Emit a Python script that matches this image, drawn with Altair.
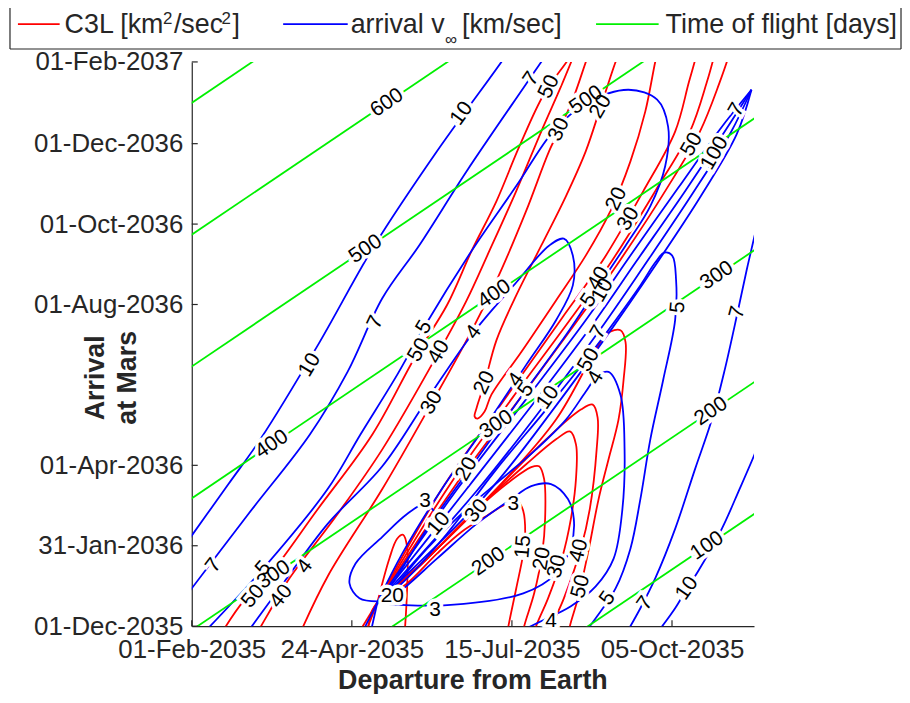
import altair as alt
import pandas as pd

# ---------------- data ----------------
# departure: days after 01-Feb-2035, arrival: days after 01-Dec-2035
x_tick_dates = ["2035-02-01", "2035-04-24", "2035-07-15", "2035-10-05"]
y_tick_dates = ["2035-12-01", "2036-01-31", "2036-04-01", "2036-08-01",
                "2036-10-01", "2036-12-01", "2037-02-01"]

tof_levels = [100, 200, 300, 400, 500, 600, 700]
tof_label_dep = [100, 89, 202, 41, 155, 269, 156, 42, 266, 152, 264]
tof_label_val = [600, 500, 500, 400, 400, 300, 300, 300, 200, 200, 100]

# arrival v-infinity contours (blue)
vinf_10_a = [(-6.6, 55.0), (18.8, 107.8), (35.1, 141.7), (64.6, 213.2), (93.5, 288.6),
             (125.6, 360.2), (158.6, 428.0), (163.7, 439.3)]
vinf_7_a = [(-6.6, 15.8), (29.0, 85.1), (60.5, 145.4), (79.8, 192.9), (97.6, 248.7),
            (116.4, 288.6), (140.8, 345.1), (170.3, 409.2), (182.5, 435.5)]
vinf_5_a = [(3.6, -9.0), (36.6, 43.7), (69.6, 104.0), (86.4, 145.4), (105.2, 190.6),
            (119.0, 226.8), (143.4, 284.8), (166.2, 333.8), (185.1, 375.2), (201.8, 396.3),
            (223.7, 406.9), (238.4, 399.4), (244.0, 379.0), (242.5, 348.9), (234.9, 318.7),
            (222.2, 288.6), (206.9, 254.7), (191.7, 220.8), (171.3, 179.3), (145.9, 126.6),
            (120.5, 73.8), (102.7, 32.4), (95.1, 18.8)]
vinf_4_a = [(26.4, -9.0), (46.8, 32.4), (69.6, 77.6), (97.6, 121.3), (120.5, 171.8),
            (144.4, 223.0), (166.2, 260.7), (183.0, 288.6), (190.6, 293.9), (195.2, 281.1),
            (195.2, 258.5), (186.6, 232.1), (171.3, 198.2), (151.0, 153.0), (128.1, 104.0),
            (107.8, 55.0), (96.1, 21.1)]
vinf_3_a = [(95.1, 18.8), (85.9, 21.1), (80.8, 32.4), (83.9, 47.5), (97.6, 67.8),
            (110.3, 85.1), (119.5, 92.7), (124.0, 87.4)]
vinf_3_b = [(95.1, 17.3), (129.1, 15.8), (169.8, 24.9), (186.6, 39.9), (194.2, 60.3),
            (195.7, 81.4), (192.7, 96.4), (184.0, 107.8), (173.9, 106.2), (163.7, 96.4),
            (145.9, 77.6), (125.6, 51.2), (105.2, 24.9), (95.1, 17.3)]
vinf_4_b = [(166.2, -5.3), (180.0, 4.5), (194.2, 15.1), (206.9, 30.1), (216.1, 51.2),
            (220.6, 88.9), (221.7, 134.1), (219.6, 175.6), (213.5, 192.9), (207.9, 189.9),
            (201.8, 177.8), (191.7, 156.7), (176.4, 134.1), (158.6, 111.5), (140.8, 88.9),
            (120.5, 58.8), (105.2, 32.4), (96.6, 18.8)]
vinf_5_b = [(199.3, -9.0), (206.9, 6.0), (217.1, 28.6), (224.7, 58.8), (229.8, 96.4),
            (234.9, 141.7), (241.5, 186.9), (247.6, 232.1), (248.1, 262.2), (246.1, 281.1),
            (242.0, 283.3), (237.4, 275.8), (229.8, 258.5), (217.1, 232.1), (201.8, 201.9),
            (181.5, 164.3), (156.1, 119.1), (130.7, 70.1), (110.3, 36.2), (97.6, 19.6)]
vinf_7_b = [(221.2, -9.0), (229.8, 13.6), (237.4, 36.2), (247.6, 73.8), (257.8, 119.1),
            (266.4, 156.7), (273.0, 194.4), (279.6, 238.1), (284.2, 269.8), (288.3, 296.1),
            (290.8, 311.2)]
vinf_10_b = [(236.4, -9.0), (247.6, 13.6), (253.7, 28.6), (259.3, 41.4), (271.5, 73.8),
             (280.6, 104.0), (288.3, 130.4), (290.8, 140.2)]
vinf_ridge_1 = [(95.1, 18.1), (140.8, 104.0), (176.4, 171.8), (206.9, 232.1), (227.3, 275.8),
                (252.7, 330.0), (273.0, 375.2), (286.7, 406.9)]
vinf_ridge_2 = [(95.1, 18.1), (145.9, 102.5), (181.5, 169.5), (211.5, 229.8), (231.8, 273.5),
                (256.7, 328.5), (276.1, 374.5), (286.7, 406.9)]
vinf_ridge_3 = [(95.1, 18.1), (151.0, 100.2), (186.6, 167.3), (216.1, 227.6), (236.4, 271.3),
                (260.8, 326.3), (279.1, 373.0), (286.7, 406.9)]
vinf_ridge_4 = [(95.1, 18.1), (136.8, 105.5), (172.3, 174.1), (202.9, 234.3), (223.2, 278.0),
                (249.1, 332.3), (270.5, 376.8), (286.7, 406.9)]
vinf_fan_1 = [(95.1, 18.1), (85.9, -9.0)]
vinf_fan_2 = [(95.1, 18.1), (91.0, -9.0)]

# launch C3 contours (red)
c3_50_a = [(13.7, -9.0), (26.4, 18.8), (37.6, 34.7), (64.6, 88.9), (92.5, 145.4),
           (114.4, 204.2), (130.7, 243.4), (143.4, 284.8), (156.1, 322.5), (167.8, 363.9),
           (180.5, 403.9), (192.7, 429.5), (195.7, 437.0)]
c3_40_a = [(32.0, -9.0), (40.2, 12.1), (49.3, 34.7), (74.7, 85.1), (97.6, 134.1),
           (126.6, 208.0), (140.8, 247.1), (152.5, 284.8), (166.2, 330.0), (179.0, 375.2),
           (189.1, 409.2), (196.8, 437.0)]
c3_30_a = [(54.4, -9.0), (69.6, 37.7), (97.6, 104.0), (123.0, 169.5), (140.8, 217.0),
           (156.1, 262.2), (171.3, 315.0), (183.0, 360.2), (189.1, 379.0), (195.7, 401.6),
           (202.8, 431.8), (204.4, 437.0)]
c3_20_a = [(219.6, 437.0), (217.1, 428.0), (209.5, 394.1), (201.8, 360.2), (191.7, 326.3),
           (179.0, 288.6), (166.2, 250.9), (156.1, 217.0), (150.0, 184.6), (146.0, 166.0),
           (144.9, 159.0), (146.4, 157.5), (150.0, 162.8), (153.5, 175.6), (168.8, 208.0),
           (186.6, 247.1), (201.8, 281.1), (214.5, 315.0), (224.7, 352.6), (232.3, 390.3),
           (237.4, 428.0), (238.9, 437.0)]
c3_30_b = [(95.1, 18.1), (128.1, 104.0), (160.1, 171.8), (189.6, 233.6), (210.5, 277.3),
           (231.3, 330.0), (247.6, 375.2), (254.7, 412.9), (259.3, 437.0)]
c3_40_b = [(95.1, 18.1), (131.7, 106.2), (164.7, 174.1), (194.7, 234.3), (215.6, 278.0),
           (237.4, 330.0), (255.2, 375.2), (263.9, 412.9), (268.4, 437.0)]
c3_50_b = [(95.1, 18.1), (134.7, 106.2), (168.8, 174.1), (198.8, 234.3), (219.6, 278.0),
           (242.5, 330.0), (260.3, 375.2), (270.5, 412.9), (276.1, 437.0)]
c3_15_c = [(95.1, 18.1), (110.3, 32.4), (125.6, 55.0), (138.3, 71.6), (151.0, 83.6),
           (161.2, 92.7), (167.3, 94.2), (169.8, 87.4), (170.8, 70.1), (169.8, 55.0),
           (166.2, 28.6), (162.2, 0.0), (161.2, -9.0)]
c3_20_c = [(95.1, 18.1), (115.4, 43.7), (140.8, 81.4), (161.2, 107.8), (173.9, 120.6),
           (177.9, 121.3), (180.5, 111.5), (181.0, 81.4), (179.5, 55.0), (175.4, 24.9),
           (170.3, 0.0), (169.3, -9.0)]
c3_30_c = [(95.1, 18.1), (117.9, 47.5), (145.9, 88.9), (171.3, 122.8), (186.6, 141.7),
           (193.7, 147.7), (196.8, 137.9), (196.8, 111.5), (194.2, 81.4), (189.6, 51.2),
           (182.5, 21.1), (176.4, 0.0), (174.9, -9.0)]
c3_40_c = [(95.1, 18.1), (120.5, 51.2), (151.0, 96.4), (181.5, 141.7), (199.3, 164.3),
           (205.4, 168.0), (207.9, 158.2), (207.4, 134.1), (203.9, 88.9), (199.3, 58.8),
           (190.6, 21.1), (184.5, 0.0), (183.0, -9.0)]
c3_50_c = [(95.1, 18.1), (123.0, 55.0), (156.1, 104.0), (186.6, 156.7), (206.9, 209.5),
           (213.0, 222.3), (219.6, 224.5), (222.2, 215.5), (221.2, 186.9), (218.6, 156.7),
           (213.5, 126.6), (208.4, 96.4), (202.9, 55.0), (197.8, 21.1), (193.7, 0.0),
           (192.7, -9.0)]
c3_hi_a = [(95.1, 18.1), (101.2, 51.2), (105.2, 66.3), (108.3, 69.3), (110.3, 60.3),
           (110.3, 28.6), (109.3, 0.0), (108.8, -9.0)]
c3_hi_b = [(95.1, 18.1), (92.5, 12.1), (90.5, 0.0), (90.0, -9.0)]
c3_fan_1 = [(95.1, 18.1), (83.9, -9.0)]
c3_fan_2 = [(95.1, 18.1), (88.0, -9.0)]

# contour labels: (text, departure, arrival, rotation)
vinf_labels = [("10", 60.5, 198.2, 301), ("10", 138.3, 388.8, 306),
               ("7", 11.2, 46.0, 307), ("7", 94.1, 230.6, 295), ("7", 173.9, 415.2, 304),
               ("5", 36.6, 43.7, 311), ("5", 119.0, 226.8, 301), ("5", 203.4, 247.1, 304),
               ("5", 171.3, 179.3, 305), ("4", 58.0, 45.2, 307), ("4", 144.4, 223.0, 307),
               ("4", 166.2, 186.9, 305), ("3", 119.5, 94.9, 0), ("3", 124.6, 12.1, 0),
               ("3", 164.7, 92.7, 0), ("4", 184.0, 3.8, 0), ("4", 206.9, 188.4, 300),
               ("5", 213.0, 21.1, 305), ("5", 249.1, 241.9, 275), ("7", 232.3, 17.3, 305),
               ("7", 279.6, 238.1, 285), ("10", 253.7, 28.6, 305), ("7", 279.1, 391.7, 300),
               ("10", 210.5, 254.7, 300), ("7", 208.4, 223.0, 300), ("10", 182.5, 173.3, 305),
               ("10", 126.6, 77.6, 310)]
c3_labels = [("50", 31.5, 22.6, 310), ("50", 116.4, 209.5, 300), ("50", 183.0, 409.2, 295),
             ("40", 45.8, 22.6, 308), ("40", 126.6, 208.0, 300), ("30", 123.0, 169.5, 300),
             ("30", 188.1, 376.8, 295), ("20", 150.0, 184.6, 295), ("20", 209.5, 394.1, 300),
             ("20", 217.6, 324.0, 295), ("30", 223.7, 308.9, 300), ("50", 256.2, 365.4, 300),
             ("40", 208.4, 263.7, 300), ("100", 267.9, 358.7, 300), ("50", 203.4, 201.9, 300),
             ("15", 169.8, 60.3, 275), ("20", 179.5, 51.2, 280), ("30", 187.1, 45.2, 285),
             ("40", 198.3, 57.3, 285), ("50", 199.3, 30.1, 285), ("30", 145.9, 87.4, 310),
             ("20", 102.7, 22.6, 0), ("20", 140.8, 119.1, 300)]

# ---------------- tables ----------------
DEP0 = pd.Timestamp("2035-02-01")
ARR0 = pd.Timestamp("2035-12-01")
ARR_OFFSET = (ARR0 - DEP0).days  # 303

curves = {
    "C3L": [c3_50_a, c3_40_a, c3_30_a, c3_20_a, c3_30_b, c3_40_b, c3_50_b,
            c3_15_c, c3_20_c, c3_30_c, c3_40_c, c3_50_c, c3_hi_a, c3_hi_b,
            c3_fan_1, c3_fan_2],
    "vinf": [vinf_10_a, vinf_7_a, vinf_5_a, vinf_4_a, vinf_3_a, vinf_3_b, vinf_4_b,
             vinf_5_b, vinf_7_b, vinf_10_b, vinf_ridge_1, vinf_ridge_2, vinf_ridge_3,
             vinf_ridge_4, vinf_fan_1, vinf_fan_2],
}
rows = []
cid = 0
for kind, lst in curves.items():
    for pts in lst:
        for i, (d, a) in enumerate(pts):
            rows.append({"kind": kind, "curve": cid, "seq": i, "d": d, "a": a})
        cid += 1
for t in tof_levels:
    for i, d in enumerate([-10, 300]):
        rows.append({"kind": "tof", "curve": cid, "seq": i, "d": d, "a": d + t - ARR_OFFSET})
    cid += 1
lines = pd.DataFrame(rows)
lines["dep"] = DEP0 + pd.to_timedelta(lines["d"], unit="D")
lines["arr"] = ARR0 + pd.to_timedelta(lines["a"], unit="D")

lab_rows = [{"text": t, "d": d, "a": a, "ang": g} for (t, d, a, g) in vinf_labels + c3_labels]
for d, v in zip(tof_label_dep, tof_label_val):
    lab_rows.append({"text": str(v), "d": d, "a": d + v - ARR_OFFSET, "ang": 326})
labels = pd.DataFrame(lab_rows)
labels["dep"] = DEP0 + pd.to_timedelta(labels["d"], unit="D")
labels["arr"] = ARR0 + pd.to_timedelta(labels["a"], unit="D")


def dt(s):
    y, m, d = (int(v) for v in s.split("-"))
    return alt.DateTime(year=y, month=m, date=d)


FONT = "Liberation Sans, Arial, Helvetica"
TXT = "#262626"
x_scale = alt.Scale(domain=[dt("2035-02-01"), dt("2035-11-16")])
y_scale = alt.Scale(domain=[dt("2035-12-01"), dt("2037-02-01")])
W, H = 566, 568

x_axis = alt.Axis(values=[dt(s) for s in x_tick_dates], format="%d-%b-%Y", title=None,
                  grid=False, ticks=False, labelFont=FONT, labelFontSize=26,
                  labelColor=TXT, labelPadding=11, labelOverlap=False, labelFlush=False,
                  domainColor=TXT, domainWidth=1.2)
y_axis = alt.Axis(values=[dt(s) for s in y_tick_dates], format="%d-%b-%Y", title=None,
                  grid=False, ticks=False, labelFont=FONT, labelFontSize=26,
                  labelColor=TXT, labelPadding=9, labelOverlap=False, labelFlush=False,
                  domainColor=TXT, domainWidth=1.2)

X = alt.X("dep:T", scale=x_scale, axis=x_axis)
Y = alt.Y("arr:T", scale=y_scale, axis=y_axis)

color_scale = alt.Scale(domain=["C3L", "vinf", "tof"], range=["#ff0000", "#0000ff", "#00f000"])

contours = alt.Chart(lines).mark_line(clip=True, strokeWidth=1.8,
                                      interpolate="catmull-rom").encode(
    x=X, y=Y,
    color=alt.Color("kind:N", scale=color_scale, legend=None),
    detail="curve:N",
    order="seq:Q",
)

halo = alt.Chart(labels).mark_text(font=FONT, fontSize=21, stroke="white",
                                   strokeWidth=7, fill="white").encode(
    x=X, y=Y, text="text:N", angle=alt.Angle("ang:Q", scale=None),
)
texts = alt.Chart(labels).mark_text(font=FONT, fontSize=21, color="black").encode(
    x=X, y=Y, text="text:N", angle=alt.Angle("ang:Q", scale=None),
)

# inward tick marks
xt = pd.DataFrame({"dep": pd.to_datetime(x_tick_dates)})
yt = pd.DataFrame({"arr": pd.to_datetime(y_tick_dates)})
xticks = alt.Chart(xt).mark_rule(color=TXT, strokeWidth=1.2).encode(
    x=X, y=alt.value(H), y2=alt.value(H - 6))
yticks = alt.Chart(yt).mark_rule(color=TXT, strokeWidth=1.2).encode(
    y=Y, x=alt.value(0), x2=alt.value(6))

one = pd.DataFrame({"k": [0]})
base = alt.Chart(one)


def txt(s, x, y, size, weight="normal", angle=0, align="left", baseline="alphabetic"):
    return base.mark_text(text=s, font=FONT, fontSize=size, fontWeight=weight, color=TXT,
                          angle=angle, align=align, baseline=baseline).encode(
        x=alt.value(x), y=alt.value(y))


def seg(x1, x2, y1, y2, color, width=1.8):
    return base.mark_rule(color=color, strokeWidth=width).encode(
        x=alt.value(x1), x2=alt.value(x2), y=alt.value(y1), y2=alt.value(y2))


legend_parts = [
    seg(-183, -183, -80, -13, TXT, 1.2),
    seg(714, 714, -80, -13, TXT, 1.2),
    seg(-183, 714, -13, -13, TXT, 1.2),
    seg(-175, -133, -38, -38, "#ff0000"),
    txt("C3L [km", -128, -29, 27),
    txt("2", -29, -38, 17),
    txt("/sec", -18, -29, 27),
    txt("2", 30, -38, 17),
    txt("]", 41, -29, 27),
    seg(92, 157, -38, -38, "#0000ff"),
    txt("arrival v", 160, -29, 27),
    txt("∞", 255, -17, 17),
    txt("[km/sec]", 272, -29, 27),
    seg(407, 470, -38, -38, "#00f000"),
    txt("Time of flight [days]", 477, -29, 27),
]
titles = [
    txt("Arrival", -96, 318, 27, "bold", 270, "center", "middle"),
    txt("at Mars", -64, 318, 27, "bold", 270, "center", "middle"),
    txt("Departure from Earth", 283, 631, 27, "bold", 0, "center", "alphabetic"),
]

chart = alt.layer(contours, halo, texts, xticks, yticks, *legend_parts, *titles).properties(
    width=W, height=H,
    padding={"left": 185, "top": 52, "right": 149, "bottom": 66},
    autosize=alt.AutoSizeParams(type="none"),
).configure_view(stroke=None)

chart.save("out.html", embed_options={"renderer": "svg", "actions": False})
